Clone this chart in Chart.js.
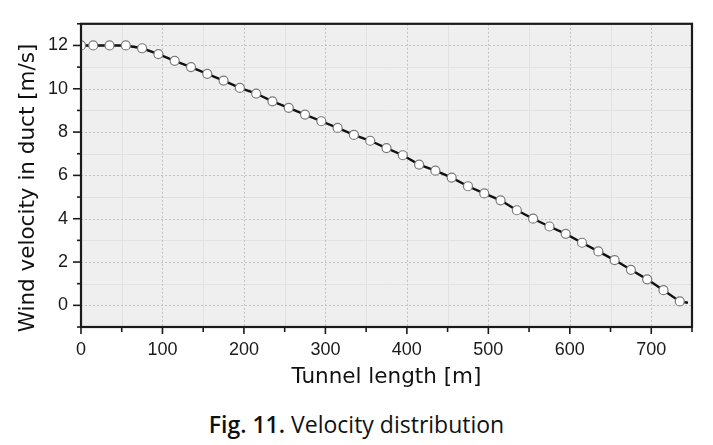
<!DOCTYPE html>
<html>
<head>
<meta charset="utf-8">
<script src="https://cdn.jsdelivr.net/npm/chart.js@4/dist/chart.umd.min.js"></script>
<style>
  body { margin: 0; background: #fff; }
  #wrap { position: relative; width: 713px; height: 395px; }
  #caption {
    position: absolute; left: 0; top: 413px; width: 713px;
    text-align: center; font-family: 'Open Sans', sans-serif;
    font-size: 23px; line-height: 23px; color: #111;
  }
  #caption b { font-weight: 600; }
</style>
</head>
<body>
<div id="wrap"><canvas id="velocity-chart"></canvas></div>
<div id="caption"><b>Fig. 11.</b> Velocity distribution</div>
<script>
// tunnel length [m] and wind velocity in duct [m/s]
const tunnelLength = [0, 15, 35, 55, 75, 95, 115, 135, 155, 175, 195, 215, 235, 255, 275, 295, 315, 335, 355, 375,
  395, 415, 435, 455, 475, 495, 515, 535, 555, 575, 595, 615, 635, 655, 675, 695, 715, 735, 745]
const windVelocity = [12.0, 12.0, 12.0, 12.0, 11.87, 11.6, 11.29, 11.0, 10.69, 10.38, 10.04, 9.78, 9.42, 9.12, 8.81, 8.5, 8.19, 7.87, 7.6, 7.26,
  6.93, 6.5, 6.22, 5.9, 5.5, 5.17, 4.85, 4.39, 4.0, 3.64, 3.3, 2.89, 2.49, 2.09, 1.64, 1.2, 0.7, 0.18, 0.12]
const xTicks = [0, 100, 200, 300, 400, 500, 600, 700]
const yTicks = [0, 2, 4, 6, 8, 10, 12]
const xMinor = [50, 150, 250, 350, 450, 550, 650, 750]
const yMinor = [-1, 1, 3, 5, 7, 9, 11, 13]

const points = tunnelLength.map((x, i) => ({ x: x, y: windVelocity[i] }))

// background, grid, frame, ticks and y title
const framePlugin = {
  id: 'framePlugin',
  beforeDatasetsDraw(chart) {
    const { ctx, chartArea: a, scales: { x, y } } = chart
    ctx.save()
    ctx.fillStyle = '#efefef'
    ctx.fillRect(a.left, a.top, a.right - a.left, a.bottom - a.top)
    // minor grid
    ctx.strokeStyle = '#e2e2e2'
    ctx.lineWidth = 1
    xMinor.forEach(v => {
      const px = Math.round(x.getPixelForValue(v)) + 0.5
      ctx.beginPath(); ctx.moveTo(px, a.top); ctx.lineTo(px, a.bottom); ctx.stroke()
    })
    yMinor.forEach(v => {
      const py = Math.round(y.getPixelForValue(v)) + 0.5
      ctx.beginPath(); ctx.moveTo(a.left, py); ctx.lineTo(a.right, py); ctx.stroke()
    })
    // major grid, dotted
    ctx.strokeStyle = '#c2c2c2'
    ctx.setLineDash([2, 2])
    xTicks.forEach(v => {
      const px = Math.round(x.getPixelForValue(v)) + 0.5
      ctx.beginPath(); ctx.moveTo(px, a.top); ctx.lineTo(px, a.bottom); ctx.stroke()
    })
    yTicks.forEach(v => {
      const py = Math.round(y.getPixelForValue(v)) + 0.5
      ctx.beginPath(); ctx.moveTo(a.left, py); ctx.lineTo(a.right, py); ctx.stroke()
    })
    ctx.restore()
  },
  afterDatasetsDraw(chart) {
    const { ctx, chartArea: a, scales: { x, y } } = chart
    ctx.save()
    ctx.strokeStyle = '#1a1a1a'
    ctx.lineWidth = 2.2
    ctx.strokeRect(a.left, a.top, a.right - a.left, a.bottom - a.top)
    ctx.lineWidth = 1.6
    xTicks.forEach(v => {
      const px = x.getPixelForValue(v)
      ctx.beginPath(); ctx.moveTo(px, a.bottom); ctx.lineTo(px, a.bottom + 7); ctx.stroke()
    })
    xMinor.forEach(v => {
      const px = x.getPixelForValue(v)
      ctx.beginPath(); ctx.moveTo(px, a.bottom); ctx.lineTo(px, a.bottom + 5); ctx.stroke()
    })
    yTicks.forEach(v => {
      const py = y.getPixelForValue(v)
      ctx.beginPath(); ctx.moveTo(a.left - 8, py); ctx.lineTo(a.left, py); ctx.stroke()
    })
    yMinor.forEach(v => {
      const py = y.getPixelForValue(v)
      ctx.beginPath(); ctx.moveTo(a.left - 4, py); ctx.lineTo(a.left, py); ctx.stroke()
    })
    // y axis title
    ctx.translate(34, 188)
    ctx.rotate(-Math.PI / 2)
    ctx.fillStyle = '#111'
    ctx.font = '21.5px "DejaVu Sans"'
    ctx.textAlign = 'center'
    ctx.textBaseline = 'alphabetic'
    ctx.fillText('Wind velocity in duct [m/s]', 0, 0)
    ctx.restore()
  }
}

const lastIndex = tunnelLength.length - 1

const config = {
  type: 'line',
  data: {
    datasets: [
      {
        label: 'Wind velocity',
        data: points,
        borderColor: '#111',
        borderWidth: 2.4,
        backgroundColor: '#fff',
        pointBackgroundColor: '#fff',
        pointBorderColor: '#7a7a7a',
        pointBorderWidth: 1.2,
        pointRadius: ctx => (ctx.dataIndex === lastIndex ? 0 : 4.5),
        tension: 0,
      },
    ],
  },
  options: {
    responsive: true,
    maintainAspectRatio: false,
    animation: false,
    layout: { padding: { top: 14, right: 21, bottom: 0, left: 0 } },
    plugins: { legend: { display: false }, tooltip: { enabled: false } },
    scales: {
      x: {
        type: 'linear',
        min: 0,
        max: 750,
        afterBuildTicks: s => { s.ticks = xTicks.map(v => ({ value: v })) },
        afterFit: s => { s.height = 68 },
        grid: { display: false, drawTicks: false },
        border: { display: false },
        ticks: { padding: 12, color: '#1a1a1a', font: { family: 'Liberation Sans', size: 18 }, maxRotation: 0 },
        title: {
          display: true,
          text: 'Tunnel length [m]',
          color: '#111',
          font: { family: 'DejaVu Sans', size: 21.5 },
          padding: { top: 0, bottom: 5 },
        },
      },
      y: {
        min: -1,
        max: 13,
        afterBuildTicks: s => { s.ticks = yTicks.map(v => ({ value: v })) },
        afterFit: s => { s.width = 81 },
        grid: { display: false, drawTicks: false },
        border: { display: false },
        ticks: { padding: 13, color: '#1a1a1a', font: { family: 'Liberation Sans', size: 18 } },
      },
    },
  },
  plugins: [framePlugin],
}

const velocityChart = new Chart(document.getElementById('velocity-chart'), config)
</script>
</body>
</html>
